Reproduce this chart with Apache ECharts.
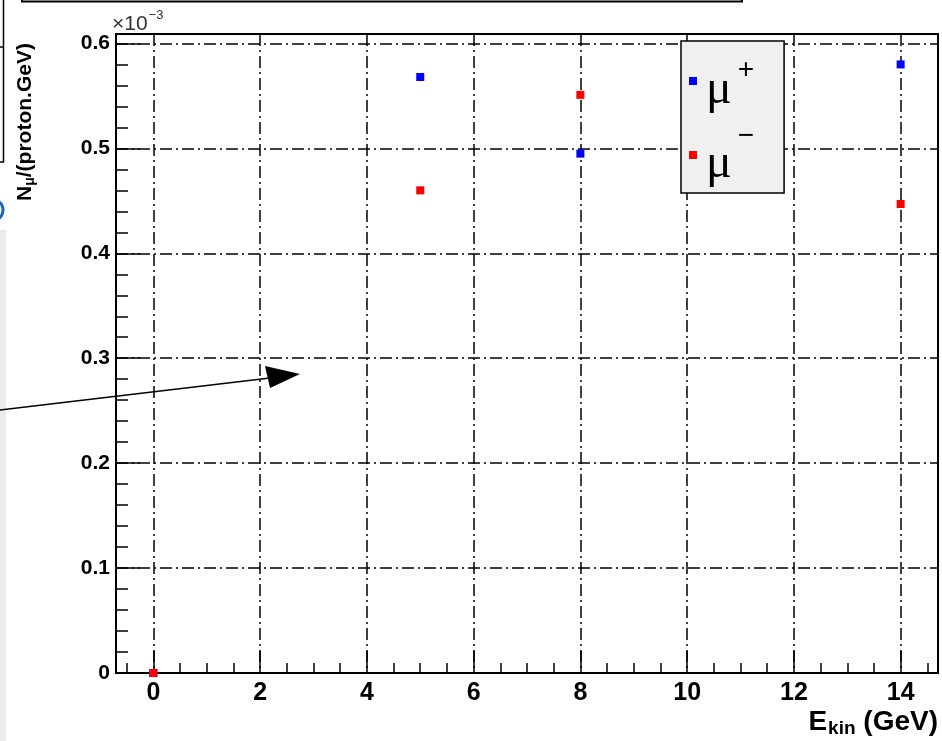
<!DOCTYPE html>
<html lang="en">
<head>
<meta charset="UTF-8">
<title>Muons per proton vs kinetic energy</title>
<script src="https://cdn.jsdelivr.net/npm/echarts@6/dist/echarts.min.js"></script>
<style>
  html, body { margin: 0; padding: 0; background: #fff; }
  #main { width: 942px; height: 741px; }
</style>
</head>
<body>
<div id="main"></div>
<script>
// proton kinetic energy (GeV)
var ekin = [0, 5, 8, 14];
// N_mu / (proton.GeV), in units of 1e-3
var muPlus  = [0, 0.568, 0.495, 0.580];
var muMinus = [0, 0.460, 0.551, 0.447];

// major tick / label positions
var xTicks = [0, 2, 4, 6, 8, 10, 12, 14];
var yTicks = [0, 0.1, 0.2, 0.3, 0.4, 0.5, 0.6];

// minor ticks (0.5 GeV and 0.02 steps)
var xMinor = [];
for (var i = -1; i <= 29; i++) xMinor.push(i * 0.5);
var yMinor = [];
for (var j = 0; j <= 30; j++) yMinor.push(Math.round(j * 2) / 100);

var xMin = -0.7, xMax = 14.7;
var yMin = 0, yMax = 0.609;

function pairs(xs, ys) {
    return xs.map(function (x, k) { return [x, ys[k]]; });
}

var black = '#000';
var gridDash = [12, 4, 2, 4];

var myChart = echarts.init(document.getElementById('main'));

var option = {
    animation: false,
    backgroundColor: '#fff',
    textStyle: { fontFamily: 'Liberation Sans' },
    grid: {
        left: 116, top: 34, right: 4, bottom: 68,
        show: true, borderColor: black, borderWidth: 2,
        outerBoundsMode: 'none'
    },
    legend: {
        orient: 'vertical',
        left: 681, top: 41,
        padding: [7, 30, 5, 8],
        itemGap: 8,
        itemWidth: 8, itemHeight: 8,
        icon: 'rect',
        backgroundColor: '#f0f0f0',
        borderColor: black, borderWidth: 1.5,
        data: ['μ+', 'μ−'],
        formatter: function (name) {
            return name === 'μ+' ? '{mu|μ}{sp|+}' : '{mu|μ}{sm|−}';
        },
        textStyle: {
            rich: {
                mu: { fontFamily: 'Liberation Serif', fontSize: 48, color: black, padding: [18, 0, 0, 4], lineHeight: 56 },
                sp: { fontFamily: 'Liberation Sans', fontSize: 28, color: black, padding: [0, 0, 22, 6] },
                sm: { fontFamily: 'Liberation Sans', fontSize: 28, color: black, padding: [0, 0, 38, 6] }
            }
        }
    },
    xAxis: [{
        type: 'value', min: xMin, max: xMax, position: 'bottom',
        name: '{e|E}{k|kin}{e| (GeV)}',
        nameLocation: 'end', nameGap: 0, nameMoveOverlap: false,
        nameTextStyle: {
            align: 'right', verticalAlign: 'top', padding: [34, 0, 0, 0],
            rich: {
                e: { fontSize: 28, fontWeight: 'bold', color: black },
                k: { fontSize: 19, fontWeight: 'bold', color: black, padding: [12, 0, 0, 1] }
            }
        },
        axisLine: { onZero: false, lineStyle: { color: black, width: 2 } },
        axisTick: { inside: true, length: 22, customValues: xTicks, lineStyle: { color: black, width: 1.5 } },
        axisLabel: { customValues: xTicks, fontSize: 25, fontWeight: 'bold', color: black, margin: 8 },
        splitLine: { show: true, lineStyle: { color: black, width: 1.5, type: gridDash } }
    }, {
        type: 'value', min: xMin, max: xMax, position: 'bottom',
        axisLine: { show: false, onZero: false },
        axisTick: { inside: true, length: 10, customValues: xMinor, lineStyle: { color: black, width: 1.5 } },
        axisLabel: { show: false },
        splitLine: { show: false }
    }],
    yAxis: [{
        type: 'value', min: yMin, max: yMax, position: 'left',
        axisLine: { onZero: false, lineStyle: { color: black, width: 2 } },
        axisTick: { inside: true, length: 24, customValues: yTicks, lineStyle: { color: black, width: 1.5 } },
        axisLabel: {
            customValues: yTicks, fontSize: 21, fontWeight: 'bold', color: black, margin: 6,
            formatter: function (v) { return v === 0 ? '0' : v.toFixed(1); }
        },
        splitLine: { show: true, lineStyle: { color: black, width: 1.5, type: gridDash } }
    }, {
        type: 'value', min: yMin, max: yMax, position: 'left',
        axisLine: { show: false, onZero: false },
        axisTick: { inside: true, length: 12, customValues: yMinor, lineStyle: { color: black, width: 1.5 } },
        axisLabel: { show: false },
        splitLine: { show: false }
    }],
    series: [{
        name: 'μ+', type: 'scatter',
        xAxisIndex: 0, yAxisIndex: 0,
        symbol: 'rect', symbolSize: 8,
        itemStyle: { color: '#0000ff', opacity: 1 },
        data: pairs(ekin, muPlus), z: 3
    }, {
        name: 'μ−', type: 'scatter',
        xAxisIndex: 0, yAxisIndex: 0,
        symbol: 'rect', symbolSize: 8,
        itemStyle: { color: '#ff0000', opacity: 1 },
        data: pairs(ekin, muMinus), z: 4
    }],
    graphic: [
        // y axis title
        {
            type: 'text', x: 25, y: 122, rotation: Math.PI / 2,
            style: {
                text: '{n|N}{s|μ}{n|/(proton.GeV)}',
                align: 'center', verticalAlign: 'middle',
                rich: {
                    n: { fontSize: 21, fontWeight: 'bold', fill: black, fontFamily: 'Liberation Sans' },
                    s: { fontSize: 14, fontWeight: 'bold', fill: black, fontFamily: 'Liberation Sans', padding: [10, 0, 0, 0] }
                }
            }
        },
        // exponent of the y axis
        {
            type: 'text', x: 112, y: 6,
            style: {
                text: '{a|×10}{b|−3}',
                rich: {
                    a: { fontSize: 21, fill: '#333', fontFamily: 'Liberation Sans', padding: [8, 0, 0, 0] },
                    b: { fontSize: 13, fill: '#333', fontFamily: 'Liberation Sans', padding: [0, 0, 10, 1] }
                }
            }
        },
        // pieces of neighbouring drawings cut by the crop
        { type: 'rect', shape: { x: 0, y: 230, width: 6, height: 511 }, style: { fill: '#ebebeb' }, z: -1 },
        { type: 'polyline', shape: { points: [[22, 0], [22, 1.5], [742, 1.5], [742, 0]] }, style: { stroke: black, lineWidth: 2, fill: null } },
        { type: 'polyline', shape: { points: [[3.5, 0], [3.5, 162], [0, 162]] }, style: { stroke: black, lineWidth: 1.5, fill: null } },
        { type: 'line', shape: { x1: 0, y1: 47, x2: 3.5, y2: 47 }, style: { stroke: black, lineWidth: 1.5 } },
        { type: 'arc', shape: { cx: -8, cy: 210, r: 11, startAngle: -1.0, endAngle: 1.0 }, style: { stroke: '#1a66c0', lineWidth: 3, fill: null } },
        // arrow
        { type: 'line', shape: { x1: 0, y1: 410, x2: 270, y2: 378 }, style: { stroke: black, lineWidth: 1.3 }, z: 10 },
        { type: 'polygon', shape: { points: [[265, 366], [300, 374], [270, 388]] }, style: { fill: black }, z: 10 }
    ]
};

myChart.setOption(option);
</script>
</body>
</html>
